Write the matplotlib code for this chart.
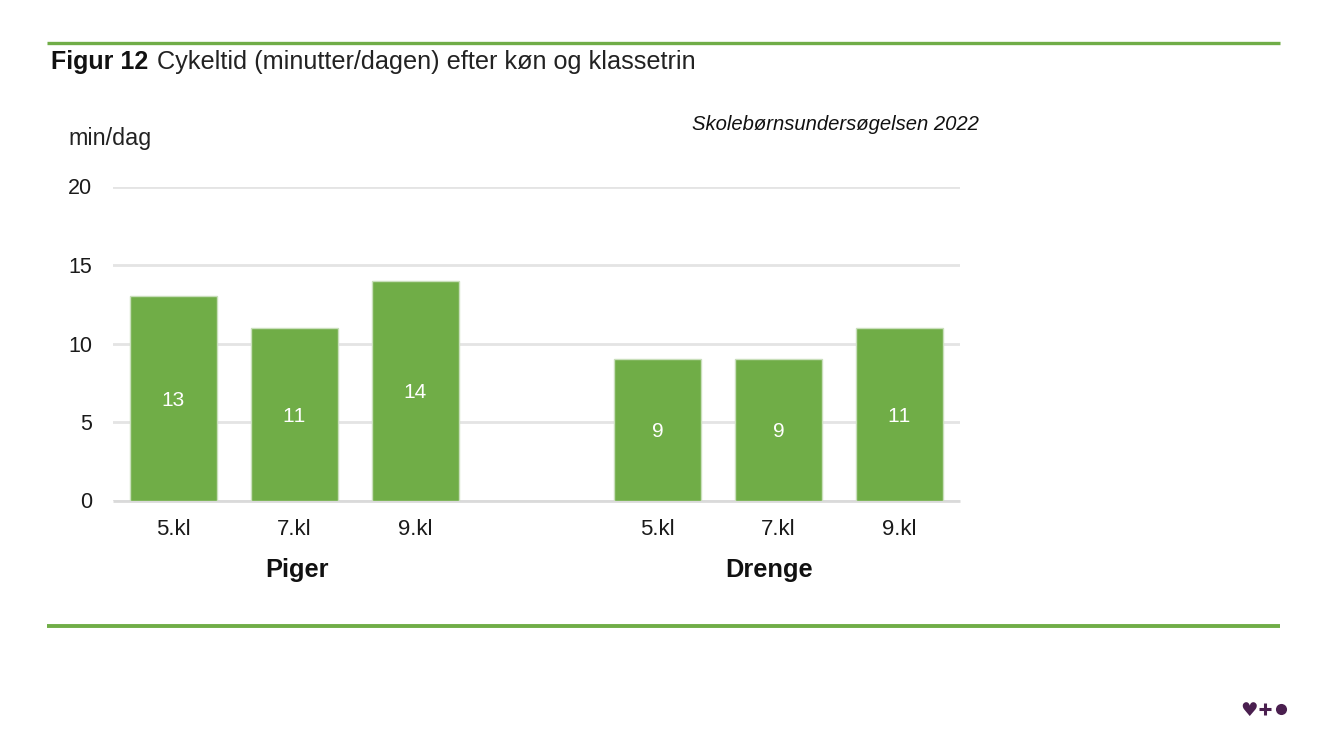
import matplotlib
matplotlib.use("Agg")
import matplotlib.pyplot as plt
from matplotlib.lines import Line2D

plt.rcParams['font.family'] = ['Liberation Sans', 'DejaVu Sans']
plt.rcParams['text.kerning_factor'] = 10

labels = ["5.kl", "7.kl", "9.kl", "5.kl", "7.kl", "9.kl"]
values = [13, 11, 14, 9, 9, 11]
positions = [0, 1, 2, 4, 5, 6]
groups = ["Piger", "Drenge"]
group_centers = [1.02, 4.92]
yticks = [0, 5, 10, 15, 20]

W, H = 1333, 750
GREEN = "#70AD47"
DARK = "#4A1F4F"
fig = plt.figure(figsize=(W/100, H/100), dpi=100, facecolor="white")

left, right, top, bottom = 113, 960, 186.5, 500.5
ax = fig.add_axes([left/W, 1-bottom/H, (right-left)/W, (bottom-top)/H])
ax.set_xlim(-0.5, 6.5)
ax.set_ylim(0, 20)
ax.bar(positions, values, width=0.715, color=GREEN, edgecolor="#C9DFBB", linewidth=1, zorder=3)
for x, v in zip(positions, values):
    ax.text(x, v/2, str(v), ha="center", va="center_baseline", color="white", fontsize=15, zorder=4)
ax.set_yticks(yticks)
ax.set_xticks(positions)
ax.set_xticklabels(labels)
ax.tick_params(axis="both", length=0, colors="#1a1a1a")
ax.tick_params(axis="x", pad=13, labelsize=16)
ax.tick_params(axis="y", pad=15, labelsize=15.5)
ax.grid(axis="y", color="#E4E4E4", linewidth=2, zorder=0)
ax.set_axisbelow(True)
for s in ["top", "right", "left"]:
    ax.spines[s].set_visible(False)
ax.spines["bottom"].set_color("#DADADA")
ax.spines["bottom"].set_linewidth(2)
ax.spines["bottom"].set_capstyle("butt")
for g, c in zip(groups, group_centers):
    ax.annotate(g, xy=(c, 0), xycoords=("data", "axes fraction"), xytext=(0, -77), textcoords="offset pixels",
                ha="center", va="baseline", fontsize=18.3, fontweight="bold", color="#111111")

fig.add_artist(Line2D([47/W, 1280/W], [1-43/H, 1-43/H], color=GREEN, linewidth=2.4, solid_capstyle="butt"))
fig.add_artist(Line2D([47/W, 1280/W], [1-626/H, 1-626/H], color=GREEN, linewidth=2.8, solid_capstyle="butt"))

fig.text(51/W, 1-69/H, "Figur 12", fontsize=18, fontweight="bold", color="#111111", va="baseline")
fig.text(157/W, 1-69/H, "Cykeltid (minutter/dagen) efter køn og klassetrin", fontsize=18.2, color="#222222", va="baseline")
fig.text(692/W, 1-130/H, "Skolebørnsundersøgelsen 2022", fontsize=14.6, style="italic", color="#111111", va="baseline")
fig.text(68/W, 1-145.5/H, "min/dag", fontsize=16.8, color="#222222", va="baseline")

fig.text(1249/W, 1-710.5/H, "♥", fontsize=14, color=DARK, ha="center", va="center", family="DejaVu Sans")
fig.add_artist(Line2D([1265/W], [1-708.5/H], marker="+", markersize=8, color=DARK, markeredgewidth=2.2))
fig.add_artist(Line2D([1280.5/W], [1-708.5/H], marker="o", markersize=8, color=DARK, markeredgewidth=0))

fig.savefig("out.png", dpi=100)
